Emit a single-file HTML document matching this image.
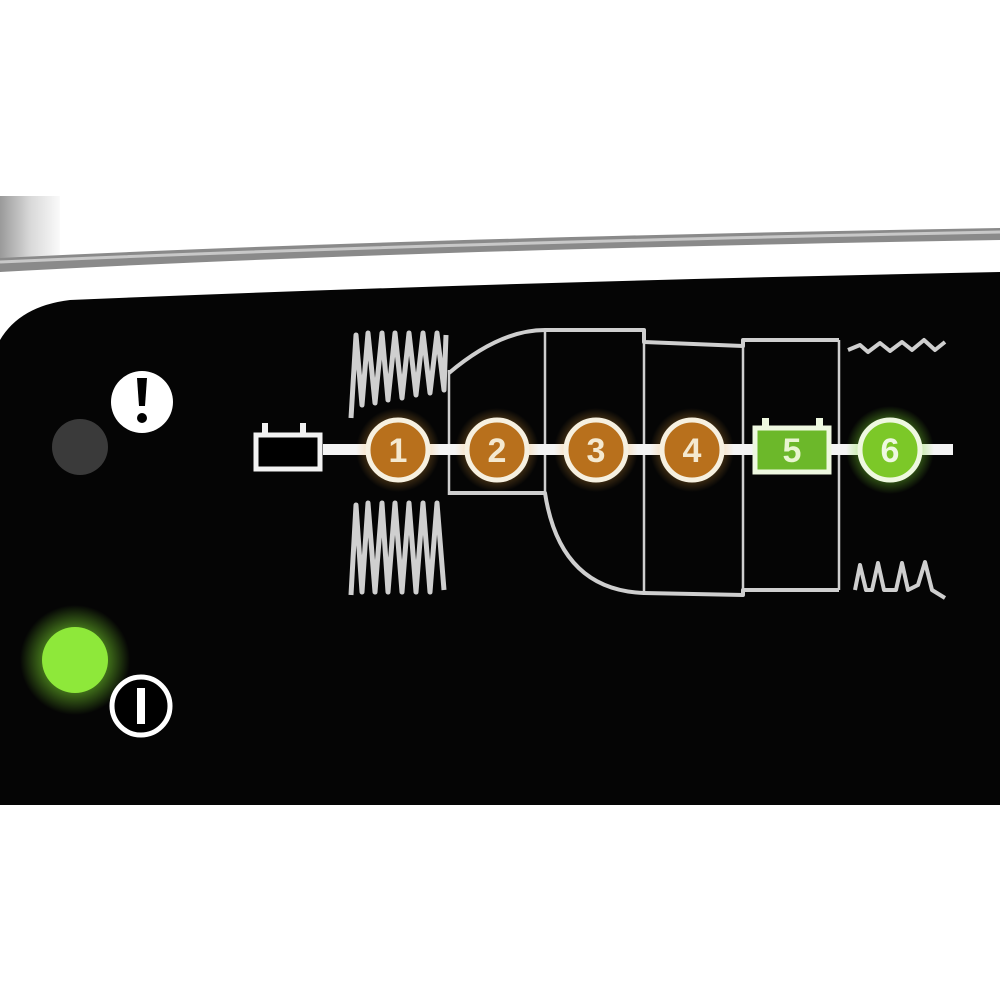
<!DOCTYPE html>
<html><head><style>html,body{margin:0;padding:0;background:#fff}svg{display:block}</style></head>
<body>
<svg width="1000" height="1000" viewBox="0 0 1000 1000" xmlns="http://www.w3.org/2000/svg">
<defs>
<linearGradient id="chrome" x1="0" y1="0" x2="1" y2="0">
<stop offset="0" stop-color="#9a9a9a"/><stop offset="0.5" stop-color="#d8d8d8"/><stop offset="1" stop-color="#fafafa"/>
</linearGradient>
<radialGradient id="glow"><stop offset="0.5" stop-color="#7fe030" stop-opacity="0.6"/><stop offset="1" stop-color="#7fe030" stop-opacity="0"/></radialGradient>
<radialGradient id="oglow"><stop offset="0.6" stop-color="#ffb040" stop-opacity="0.35"/><stop offset="1" stop-color="#ffb040" stop-opacity="0"/></radialGradient>
</defs>
<rect width="1000" height="1000" fill="#fff"/>
<rect x="0" y="196" width="60" height="66" fill="url(#chrome)"/>
<path d="M0 258 Q400 238 1000 228 L1000 240 Q400 250 0 272 Z" fill="#8a8a8a"/>
<path d="M0 262 Q400 244 1000 232" stroke="#c8c8c8" stroke-width="3" fill="none"/>
<path d="M0 340 Q20 306 70 300 Q500 282 1000 272 L1000 805 L0 805 Z" fill="#050505"/>
<g stroke="#cfcfcf" stroke-width="4" fill="none" stroke-linejoin="round">
<path d="M449 373 Q500 330 545 330 L644 330 L644 342 L743 346 L743 340 L839 340"/>
<path d="M449 493 L545 493 Q560 590 644 593 L743 595 L743 590 L839 590"/>
<line x1="449" y1="370" x2="449" y2="495" stroke-width="2.5"/>
<line x1="545" y1="330" x2="545" y2="493" stroke-width="2.5"/>
<line x1="644" y1="330" x2="644" y2="595" stroke-width="2.5"/>
<line x1="743" y1="342" x2="743" y2="595" stroke-width="2.5"/>
<line x1="839" y1="340" x2="839" y2="590" stroke-width="2.5"/>
<path d="M351 418 L356 335 L362 405 L368 333 L375 403 L382 333 L388 400 L395 333 L402 398 L409 333 L416 395 L423 333 L430 393 L437 333 L444 390 L446 335" stroke-width="5"/>
<path d="M351 595 L356 505 L362 592 L368 503 L375 592 L382 503 L388 592 L395 503 L402 592 L409 503 L416 592 L423 503 L430 592 L437 503 L444 590" stroke-width="5"/>
<path d="M848 350 L860 345 L868 352 L880 343 L890 351 L902 342 L912 350 L924 340 L935 350 L945 342" stroke-width="4"/>
<path d="M855 590 L860 565 L866 590 L872 590 L878 563 L884 590 L896 590 L902 563 L908 590 L918 585 L925 562 L932 590 L945 598" stroke-width="4"/>
</g>
<rect x="323" y="444" width="630" height="11" fill="#f4f4f4"/>
<rect x="256" y="435" width="64" height="34" fill="#000" stroke="#f2f2f2" stroke-width="5"/>
<rect x="262" y="423" width="6" height="10" fill="#f2f2f2"/><rect x="300" y="423" width="6" height="10" fill="#f2f2f2"/>
<g font-family="Liberation Sans, sans-serif" font-weight="bold" font-size="34" text-anchor="middle" fill="#f4e9d0">
<circle cx="398" cy="450" r="42" fill="url(#oglow)"/><circle cx="398" cy="450" r="30" fill="#b8701c" stroke="#f6f0e0" stroke-width="5"/><text x="398" y="462">1</text>
<circle cx="497" cy="450" r="42" fill="url(#oglow)"/><circle cx="497" cy="450" r="30" fill="#b8701c" stroke="#f6f0e0" stroke-width="5"/><text x="497" y="462">2</text>
<circle cx="596" cy="450" r="42" fill="url(#oglow)"/><circle cx="596" cy="450" r="30" fill="#b8701c" stroke="#f6f0e0" stroke-width="5"/><text x="596" y="462">3</text>
<circle cx="692" cy="450" r="42" fill="url(#oglow)"/><circle cx="692" cy="450" r="30" fill="#b8701c" stroke="#f6f0e0" stroke-width="5"/><text x="692" y="462">4</text>
<rect x="755" y="428" width="74" height="44" fill="#6cb82a" stroke="#eef8e0" stroke-width="5"/>
<rect x="762" y="418" width="7" height="9" fill="#eef8e0"/><rect x="816" y="418" width="7" height="9" fill="#eef8e0"/>
<text x="792" y="462" fill="#e8f5d0">5</text>
<circle cx="890" cy="450" r="44" fill="url(#glow)"/><circle cx="890" cy="450" r="30" fill="#7cc828" stroke="#eef8e0" stroke-width="5"/><text x="890" y="462" fill="#eef8e0">6</text>
</g>
<circle cx="80" cy="447" r="28" fill="#3a3a3a"/>
<circle cx="75" cy="660" r="55" fill="url(#glow)"/>
<circle cx="75" cy="660" r="33" fill="#8ee83a"/>
<circle cx="142" cy="402" r="31" fill="#fff"/>
<path d="M137 378 L147 378 L145 406 L139 406 Z" fill="#000"/>
<circle cx="142" cy="418" r="5" fill="#000"/>
<circle cx="141" cy="706" r="29" fill="#000" stroke="#fff" stroke-width="5"/>
<rect x="137" y="688" width="8" height="36" fill="#fff"/>
</svg>
</body></html>
